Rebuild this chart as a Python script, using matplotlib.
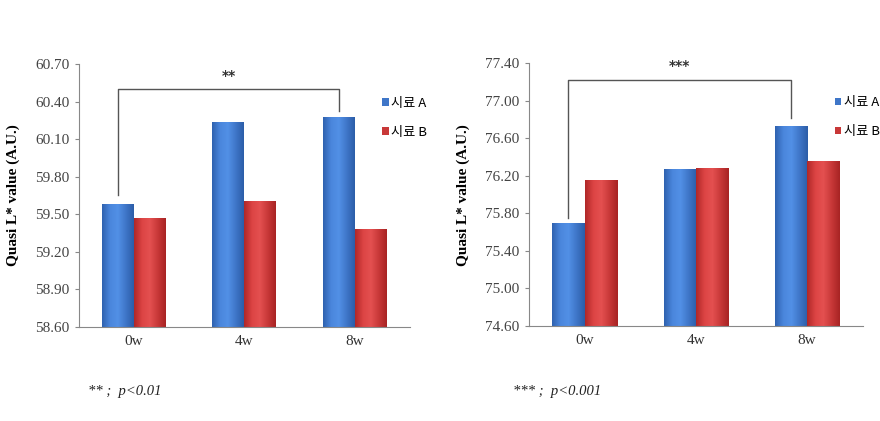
import numpy as np
import matplotlib
matplotlib.use("Agg")
import matplotlib.pyplot as plt
from matplotlib.colors import LinearSegmentedColormap

# 데이터
weeks = ["0w", "4w", "8w"]
series = ["시료 A", "시료 B"]

left_a = [59.58, 60.235, 60.28]
left_b = [59.47, 59.61, 59.38]
left_ticks = [58.60, 58.90, 59.20, 59.50, 59.80, 60.10, 60.40, 60.70]

right_a = [75.70, 76.27, 76.73]
right_b = [76.16, 76.28, 76.36]
right_ticks = [74.60, 75.00, 75.40, 75.80, 76.20, 76.60, 77.00, 77.40]

# 유의성 브래킷 (왼쪽 아래, 위, 오른쪽 아래)
left_bracket = [59.65, 60.50, 60.325]
right_bracket = [75.75, 77.22, 76.82]
left_star = "**"
right_star = "***"
left_note = "** ;  p<0.01"
right_note = "*** ;  p<0.001"

blue_cmap = LinearSegmentedColormap.from_list(
    "b", ["#2f62b0", "#4a86dc", "#5290e6", "#3f76c8", "#2c5ea8"])
red_cmap = LinearSegmentedColormap.from_list(
    "r", ["#b02828", "#dc4444", "#e45050", "#c83838", "#a82424"])

grad = np.linspace(0, 1, 64).reshape(1, -1)


def gradient_bars(ax, bars, cmap):
    for b in bars:
        x0, y0 = b.get_x(), b.get_y()
        w, h = b.get_width(), b.get_height()
        im = ax.imshow(grad, cmap=cmap, aspect="auto", zorder=2,
                       extent=[x0, x0 + w, y0, y0 + h], origin="lower")
        im.set_clip_path(b)
        b.set_facecolor("none")


def draw_panel(ax, a_vals, b_vals, ticks, bracket, star, star_y):
    x = np.arange(len(weeks)) + 0.5
    w = 0.29
    ymin, ymax = ticks[0], ticks[-1]
    ba = ax.bar(x - w / 2, np.array(a_vals) - ymin, w, bottom=ymin,
                color="#4a86dc", edgecolor="none", zorder=2, label=series[0])
    bb = ax.bar(x + w / 2, np.array(b_vals) - ymin, w, bottom=ymin,
                color="#dc4444", edgecolor="none", zorder=2, label=series[1])
    gradient_bars(ax, ba, blue_cmap)
    gradient_bars(ax, bb, red_cmap)

    ax.set_xlim(0, 3)
    ax.set_ylim(ymin, ymax)
    ax.set_yticks(ticks)
    ax.set_yticklabels(["%.2f" % t for t in ticks], fontsize=11,
                       family="Liberation Serif", color="#444444")
    ax.set_xticks(x)
    ax.set_xticklabels(weeks, fontsize=11, family="Liberation Serif",
                       color="#333333")
    ax.tick_params(axis="x", length=0, pad=6)
    ax.tick_params(axis="y", length=3, color="#888888", pad=4)
    for s in ["top", "right"]:
        ax.spines[s].set_visible(False)
    for s in ["left", "bottom"]:
        ax.spines[s].set_color("#888888")
    ax.set_ylabel("Quasi L* value (A.U.)", fontsize=11, fontweight="bold",
                  family="Liberation Serif", labelpad=11)

    # 브래킷
    xl, xr = x[0] - w / 2, x[2] - w / 2
    ax.plot([xl, xl, xr, xr], [bracket[0], bracket[1], bracket[1], bracket[2]],
            color="#555555", lw=1.0, zorder=3, clip_on=False)
    ax.text((xl + xr) / 2, star_y, star, ha="center", va="center",
            fontsize=10, fontweight="bold", color="#333333",
            transform=ax.get_xaxis_transform())

    ax.legend(handles=[ba, bb], loc="upper left", bbox_to_anchor=(0.88, 0.92),
              frameon=False, handlelength=0.5, handleheight=0.5,
              handletextpad=0.2, labelspacing=1.2,
              prop={"family": ["Noto Sans CJK KR", "DejaVu Sans"], "size": 9.5})
    leg = ax.get_legend()
    leg.legend_handles[0].set_facecolor("#3f76c8")
    leg.legend_handles[1].set_facecolor("#c83838")


fig = plt.figure(figsize=(8.8, 4.21), dpi=100)
ax1 = fig.add_axes([0.0898, 0.2233, 0.376, 0.6247])
ax2 = fig.add_axes([0.601, 0.2257, 0.3795, 0.624])

draw_panel(ax1, left_a, left_b, left_ticks, left_bracket, left_star, 0.955)
draw_panel(ax2, right_a, right_b, right_ticks, right_bracket, right_star, 0.99)

fig.text(0.100, 0.062, left_note, fontsize=10.5, style="italic",
         family="Liberation Serif", color="#222222")
fig.text(0.583, 0.062, right_note, fontsize=10.5, style="italic",
         family="Liberation Serif", color="#222222")

fig.savefig("out.png", dpi=100)
